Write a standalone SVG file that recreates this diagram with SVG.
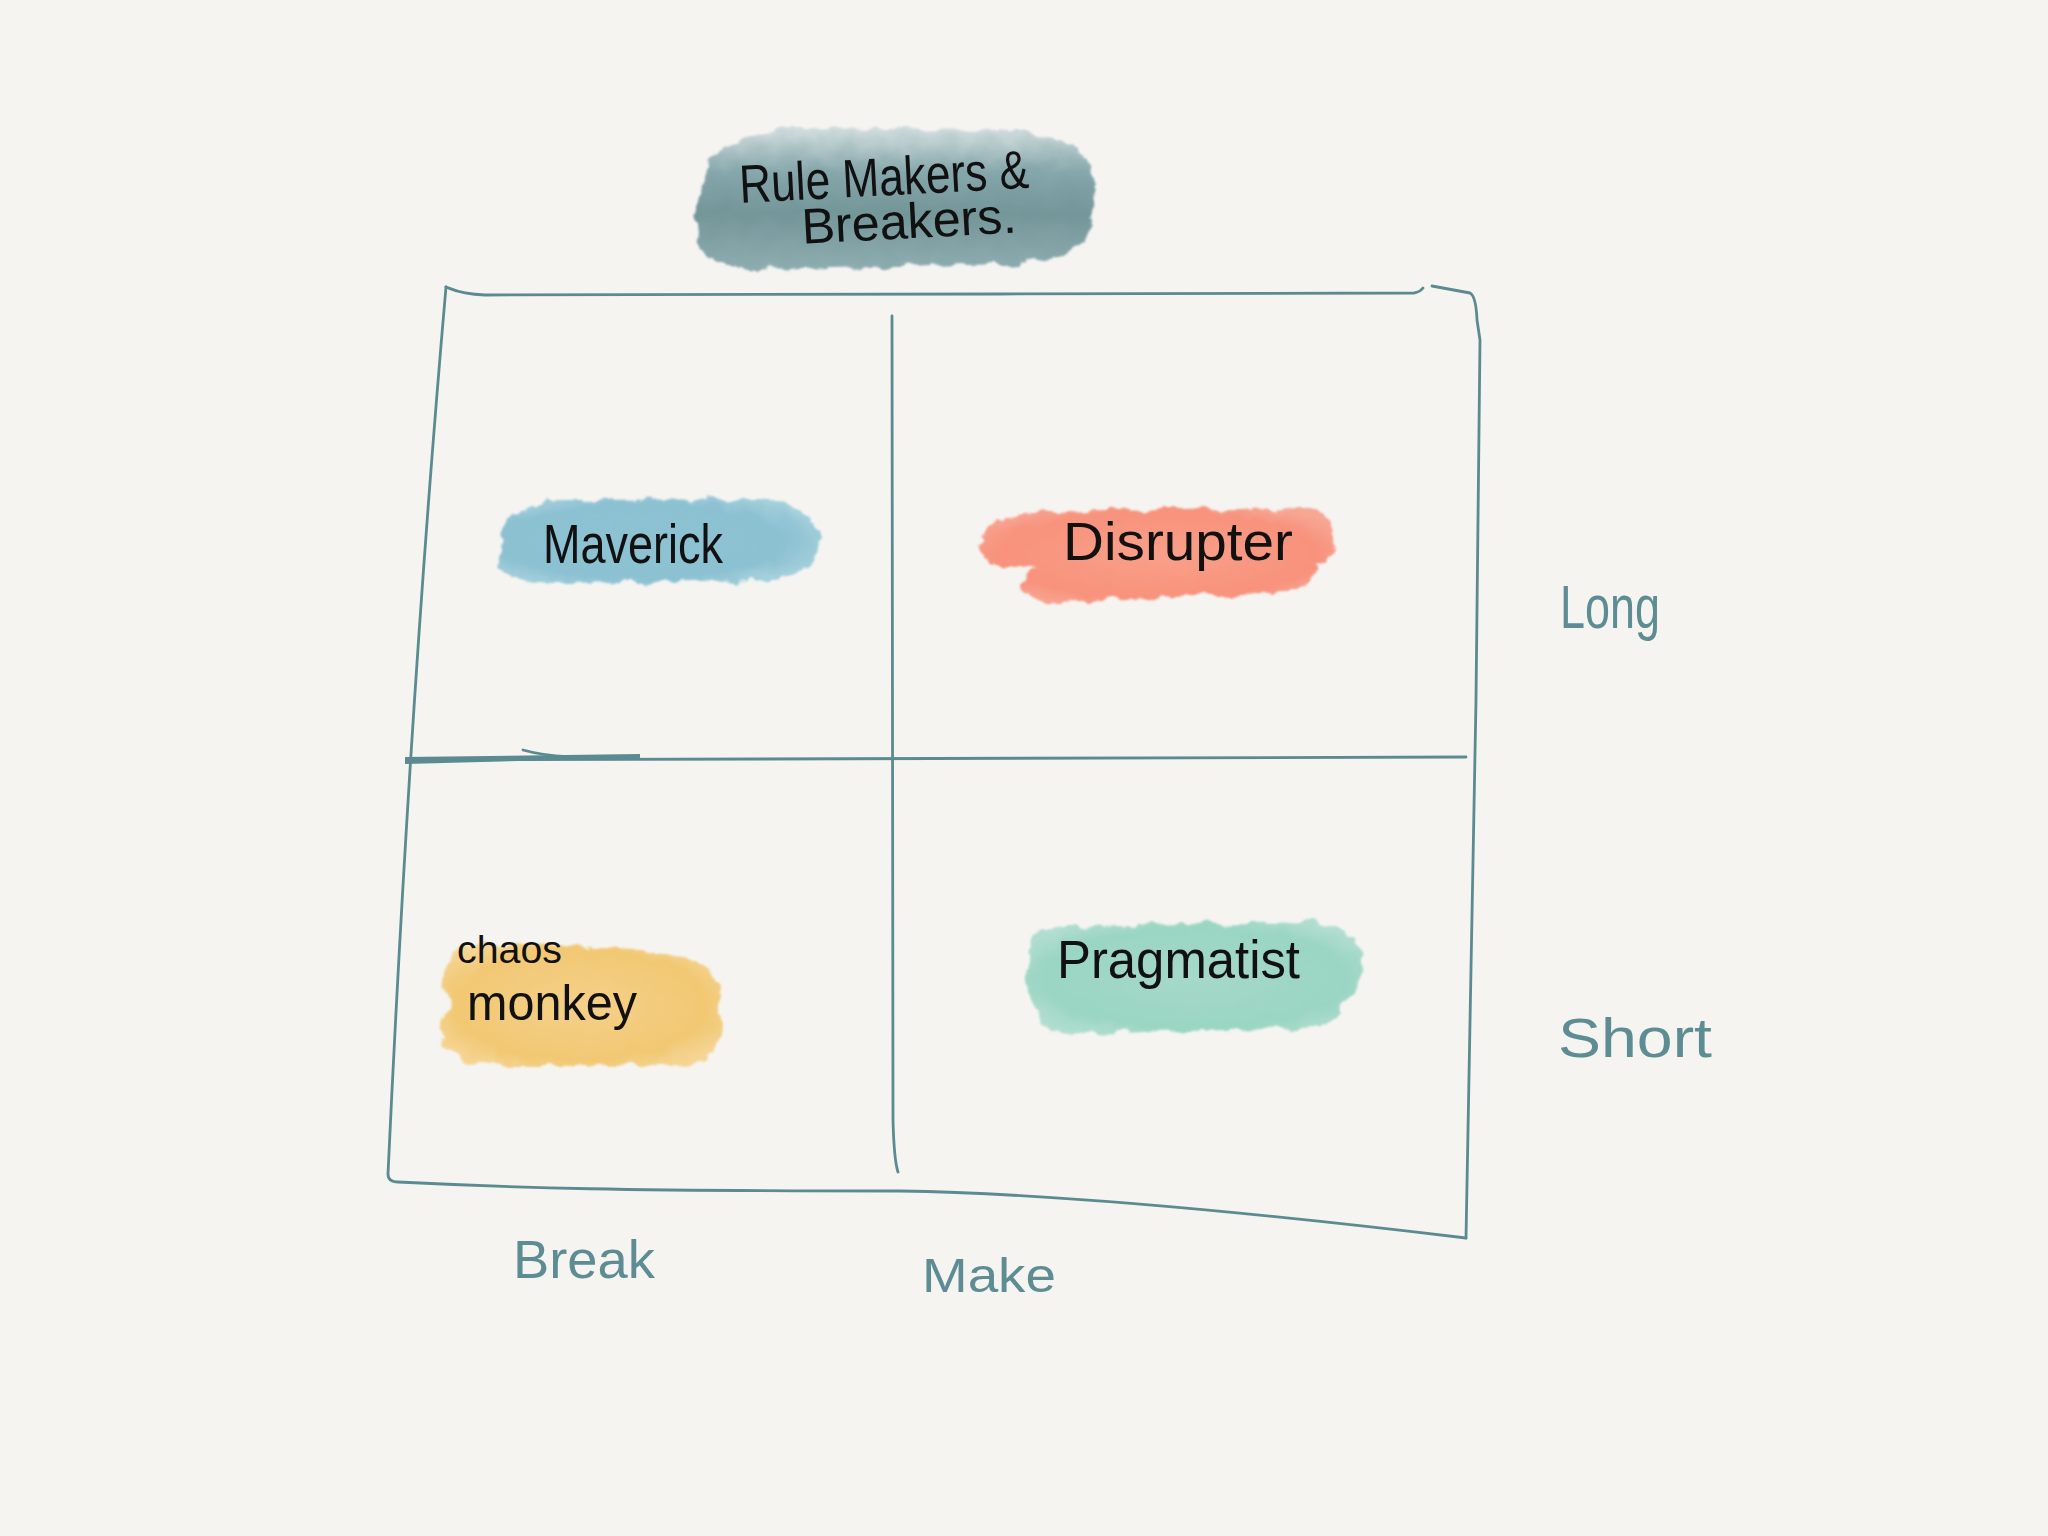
<svg xmlns="http://www.w3.org/2000/svg" width="2048" height="1536" viewBox="0 0 2048 1536">
<defs>
<filter id="rough" x="-10%" y="-20%" width="120%" height="140%">
<feTurbulence type="fractalNoise" baseFrequency="0.05" numOctaves="3" seed="4" result="n"/>
<feDisplacementMap in="SourceGraphic" in2="n" scale="14" xChannelSelector="R" yChannelSelector="G" result="d"/>
<feGaussianBlur in="d" stdDeviation="1.2"/>
</filter>
<linearGradient id="gTitle" x1="0" y1="0" x2="0" y2="1">
<stop offset="0" stop-color="#d3dedf"/><stop offset="0.3" stop-color="#86a7ab"/><stop offset="0.6" stop-color="#739699"/><stop offset="1" stop-color="#8fadb1"/>
</linearGradient>
<radialGradient id="gMav" cx="0.45" cy="0.5" r="0.6">
<stop offset="0" stop-color="#8ec2d3"/><stop offset="0.75" stop-color="#8cc1d2"/><stop offset="1" stop-color="#a6d0dc"/>
</radialGradient>
<radialGradient id="gDis" cx="0.5" cy="0.5" r="0.6">
<stop offset="0" stop-color="#f9a08a"/><stop offset="0.75" stop-color="#f8927c"/><stop offset="1" stop-color="#f7a795"/>
</radialGradient>
<radialGradient id="gCha" cx="0.5" cy="0.5" r="0.6">
<stop offset="0" stop-color="#f5d08a"/><stop offset="0.75" stop-color="#f2c873"/><stop offset="1" stop-color="#f5d595"/>
</radialGradient>
<radialGradient id="gPra" cx="0.5" cy="0.5" r="0.6">
<stop offset="0" stop-color="#a6d9ca"/><stop offset="0.75" stop-color="#9ad5c3"/><stop offset="1" stop-color="#b2ded1"/>
</radialGradient>
</defs>
<style>
.ln{fill:none;stroke:#5b8a91;stroke-width:2.8;stroke-linecap:round;stroke-linejoin:round}
.lbl{font-family:"Liberation Sans","DejaVu Sans",sans-serif;fill:#111}
.ax{font-family:"Liberation Sans","DejaVu Sans",sans-serif;fill:#5e8c93}
.blob{filter:url(#rough)}
</style>
<rect width="2048" height="1536" fill="#f5f4f1"/>

<g id="title">
<path class="blob" fill="url(#gTitle)" d="M712,160 Q740,130 800,128 L1000,130 Q1080,136 1092,165 Q1098,200 1085,240 Q1070,262 1000,264 L800,270 Q720,274 700,250 Q690,220 700,190 Z"/>
<g transform="rotate(-3 740 200)">
<text class="lbl" x="740" y="203" font-size="54" textLength="290" lengthAdjust="spacingAndGlyphs">Rule Makers &amp;</text>
<text class="lbl" x="800" y="247" font-size="50" textLength="215" lengthAdjust="spacingAndGlyphs">Breakers.</text>
</g>
</g>

<g id="maverick">
<path class="blob" fill="url(#gMav)" d="M502,535 Q508,503 560,500 L760,499 Q817,504 820,535 Q822,572 770,580 L560,583 Q502,583 498,560 Z"/>
<text class="lbl" x="543" y="563" font-size="56" textLength="180" lengthAdjust="spacingAndGlyphs">Maverick</text>
</g>

<g id="disrupter">
<path class="blob" fill="url(#gDis)" d="M982,535 Q988,516 1040,512 L1300,508 Q1338,510 1335,540 Q1332,560 1315,565 Q1318,590 1290,592 L1060,602 Q1025,604 1024,585 Q1024,572 1040,568 L1000,566 Q976,560 982,535 Z"/>
<text class="lbl" x="1063" y="560" font-size="54" textLength="230" lengthAdjust="spacingAndGlyphs">Disrupter</text>
</g>

<g id="chaos-monkey">
<path class="blob" fill="url(#gCha)" d="M448,965 Q448,946 480,944 L640,948 Q692,953 714,975 Q724,1000 720,1035 Q714,1064 680,1066 L500,1066 Q443,1062 440,1035 Q438,1015 450,1005 Q438,990 448,965 Z"/>
<text class="lbl" x="457" y="963" font-size="38" textLength="105" lengthAdjust="spacingAndGlyphs">chaos</text>
<text class="lbl" x="467" y="1020" font-size="50" textLength="170" lengthAdjust="spacingAndGlyphs">monkey</text>
</g>

<g id="pragmatist">
<path class="blob" fill="url(#gPra)" d="M1028,945 Q1033,926 1070,926 L1320,922 Q1360,926 1362,960 Q1362,990 1342,1005 Q1337,1027 1300,1028 L1080,1034 Q1038,1032 1034,1005 Q1024,980 1028,945 Z"/>
<text class="lbl" x="1057" y="978" font-size="54" textLength="243" lengthAdjust="spacingAndGlyphs">Pragmatist</text>
</g>

<g id="axis-labels">
<text class="ax" x="1560" y="628" font-size="62" textLength="100" lengthAdjust="spacingAndGlyphs">Long</text>
<text class="ax" x="1558" y="1057" font-size="56" textLength="154" lengthAdjust="spacingAndGlyphs">Short</text>
<text class="ax" x="513" y="1278" font-size="54" textLength="142" lengthAdjust="spacingAndGlyphs">Break</text>
<text class="ax" x="922" y="1292" font-size="48" textLength="134" lengthAdjust="spacingAndGlyphs">Make</text>
</g>

<g id="connectors">
<path class="ln" d="M446,287 C452,289 458,294 485,295 L1000,294 L1414,293 Q1420,292 1423,288"/>
<path class="ln" d="M1432,286 L1470,293 Q1476,296 1477,320 L1480,340 L1476,700 L1466,1238"/>
<path class="ln" d="M446,287 Q410,700 388,1174 Q388,1182 398,1182 C520,1188 620,1191 900,1191 Q1100,1194 1466,1238"/>
<path class="ln" d="M892,316 L893,1120 Q894,1160 898,1172"/>
<path class="ln" d="M407,760 L1466,757"/>
<path fill="#5b8a91" d="M405,757 L640,754 L640,758 L405,764 Z"/>
<path class="ln" d="M523,750 Q540,755 570,757"/>
</g>
</svg>
